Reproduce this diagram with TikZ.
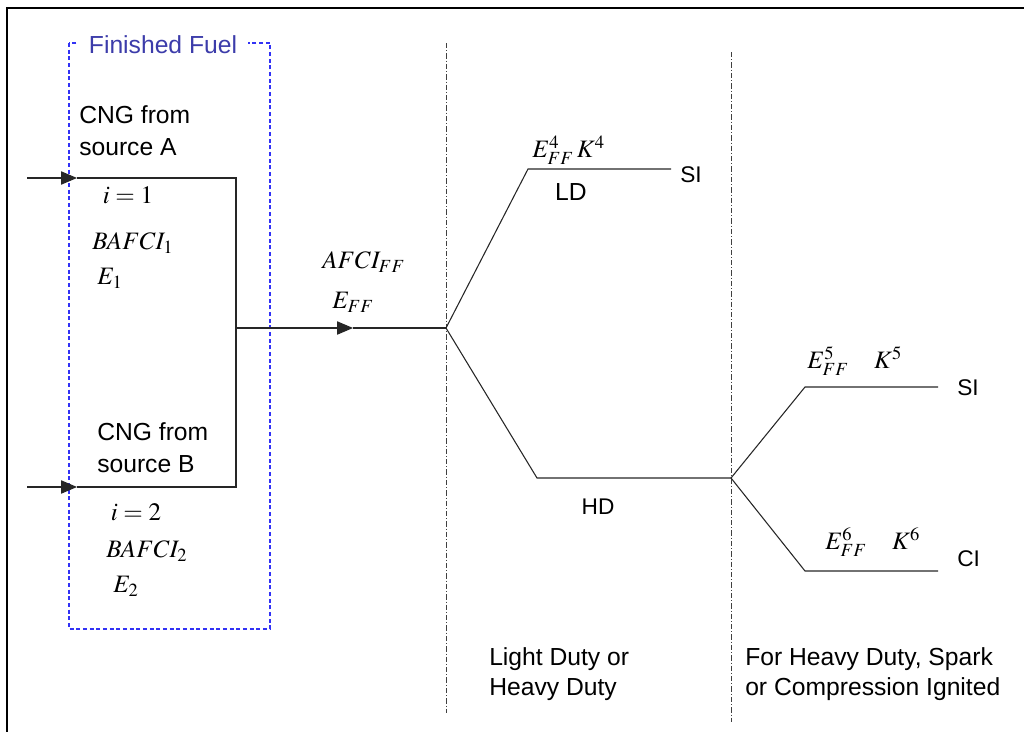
\documentclass[tikz,border=0pt]{standalone}
\usepackage{mathptmx}
\usepackage[no-math]{fontspec}
\setmainfont{Liberation Sans}
\usepackage{tikz}
\usetikzlibrary{arrows.meta,positioning,calc}
\usepackage{xcolor}
\definecolor{ffblue}{RGB}{60,60,170}
\definecolor{boxblue}{RGB}{50,50,245}

\begin{document}
\begin{tikzpicture}[x=0.75pt, y=-0.75pt,
  flow/.style={line width=0.8pt, black!85},
  feed/.style={flow, -{Triangle[length=12pt,width=10pt]}},
  divider/.style={line width=0.6pt, black!75,
    dash pattern=on 4pt off 1.5pt on 0.8pt off 1.5pt},
  big/.style={inner sep=0pt, font=\fontsize{18.5}{24}\selectfont},
  small/.style={inner sep=0pt, font=\fontsize{17}{22}\selectfont},
  note/.style={inner sep=0pt, align=left, font=\fontsize{18.5}{22.5}\selectfont},
  mth/.style={inner sep=0pt, font=\fontsize{18.8}{22}\selectfont}]
\useasboundingbox (0,0) rectangle (1024,732);

% page frame
\draw[line width=2pt] (1024,8) -- (7,8) -- (7,732);

% finished fuel box
\draw[boxblue, line width=0.9pt, dash pattern=on 3pt off 2pt] (69,43) rectangle (270,629);
\node (title) [big, text=ffblue, fill=white, inner xsep=8.5pt, inner ysep=2pt] at (163,45) {Finished Fuel};

% column dividers
\draw[divider] (446,43) -- (446,713);
\draw[divider] (731,52) -- (731,722);

% points
\coordinate (srcA) at (27,178);
\coordinate (inA) at (77,178);
\coordinate (cornerA) at (236,178);
\coordinate (cornerB) at (236,487);
\coordinate (inB) at (77,487);
\coordinate (srcB) at (27,487);
\coordinate (join) at (236,328);
\coordinate (mid) at (353,328);
\coordinate (split) at (446,328);
\coordinate (ldKnee) at (528,169);
\coordinate (ldEnd) at (671,169);
\coordinate (hdKnee) at (537,478);
\coordinate (hdSplit) at (731,478);
\coordinate (siKnee) at (805,387);
\coordinate (siEnd) at (938,387);
\coordinate (ciKnee) at (805,571);
\coordinate (ciEnd) at (938,571);

% sources
\draw[feed] (srcA) -- (inA);
\draw[feed] (srcB) -- (inB);
\draw[flow] (inA) -- (cornerA) -- (cornerB) -- (inB);

% finished fuel out
\draw[feed] (join) -- (mid);
\draw[flow] (mid) -- (split);

% duty split
\draw[flow] (split) -- (ldKnee) -- (ldEnd);
\draw[flow] (split) -- (hdKnee) -- (hdSplit);
\draw[flow] (hdSplit) -- (siKnee) -- (siEnd);
\draw[flow] (hdSplit) -- (ciKnee) -- (ciEnd);

% labels
\node (cngA) [big, anchor=west, align=left] at (79,131) {CNG from\\source A};
\node (iA) [mth] at (128,195) {$i=1$};
\node (bafciA) [mth, anchor=west] at (92,243) {$BAFCI_{1}$};
\node (eA) [mth, anchor=west] at (97,278) {$E_{1}$};

\node (cngB) [big, anchor=west, align=left] at (97,448) {CNG from\\source B};
\node (iB) [mth] at (136,512) {$i=2$};
\node (bafciB) [mth, anchor=west] at (106,551) {$BAFCI_{2}$};
\node (eB) [mth, anchor=west] at (113,586) {$E_{2}$};

\node (afci) [mth, anchor=west] at (322,262) {$AFCI_{FF}$};
\node (eff) [mth, anchor=west] at (332,302) {$E_{FF}$};

\node (eLD) [mth, anchor=west] at (532,150) {$E_{FF}^{4}\,K^{4}$};
\node (ld) [big] at (571,192) {LD};
\node (siLD) [small, anchor=west] at (680,175) {SI};
\node (hd) [small] at (598,507) {HD};

\node (eSI) [mth, anchor=west] at (807,361) {$E_{FF}^{5}\quad K^{5}$};
\node (siHD) [small, anchor=west] at (957,388) {SI};
\node (eCI) [mth, anchor=west] at (825,542) {$E_{FF}^{6}\quad K^{6}$};
\node (ciHD) [small, anchor=west] at (957,559) {CI};

\node (dutyNote) [note, anchor=west] at (489,674) {Light Duty or\\Heavy Duty};
\node (ignNote) [note, anchor=west] at (745,674) {For Heavy Duty, Spark\\or Compression Ignited};
\end{tikzpicture}
\end{document}
